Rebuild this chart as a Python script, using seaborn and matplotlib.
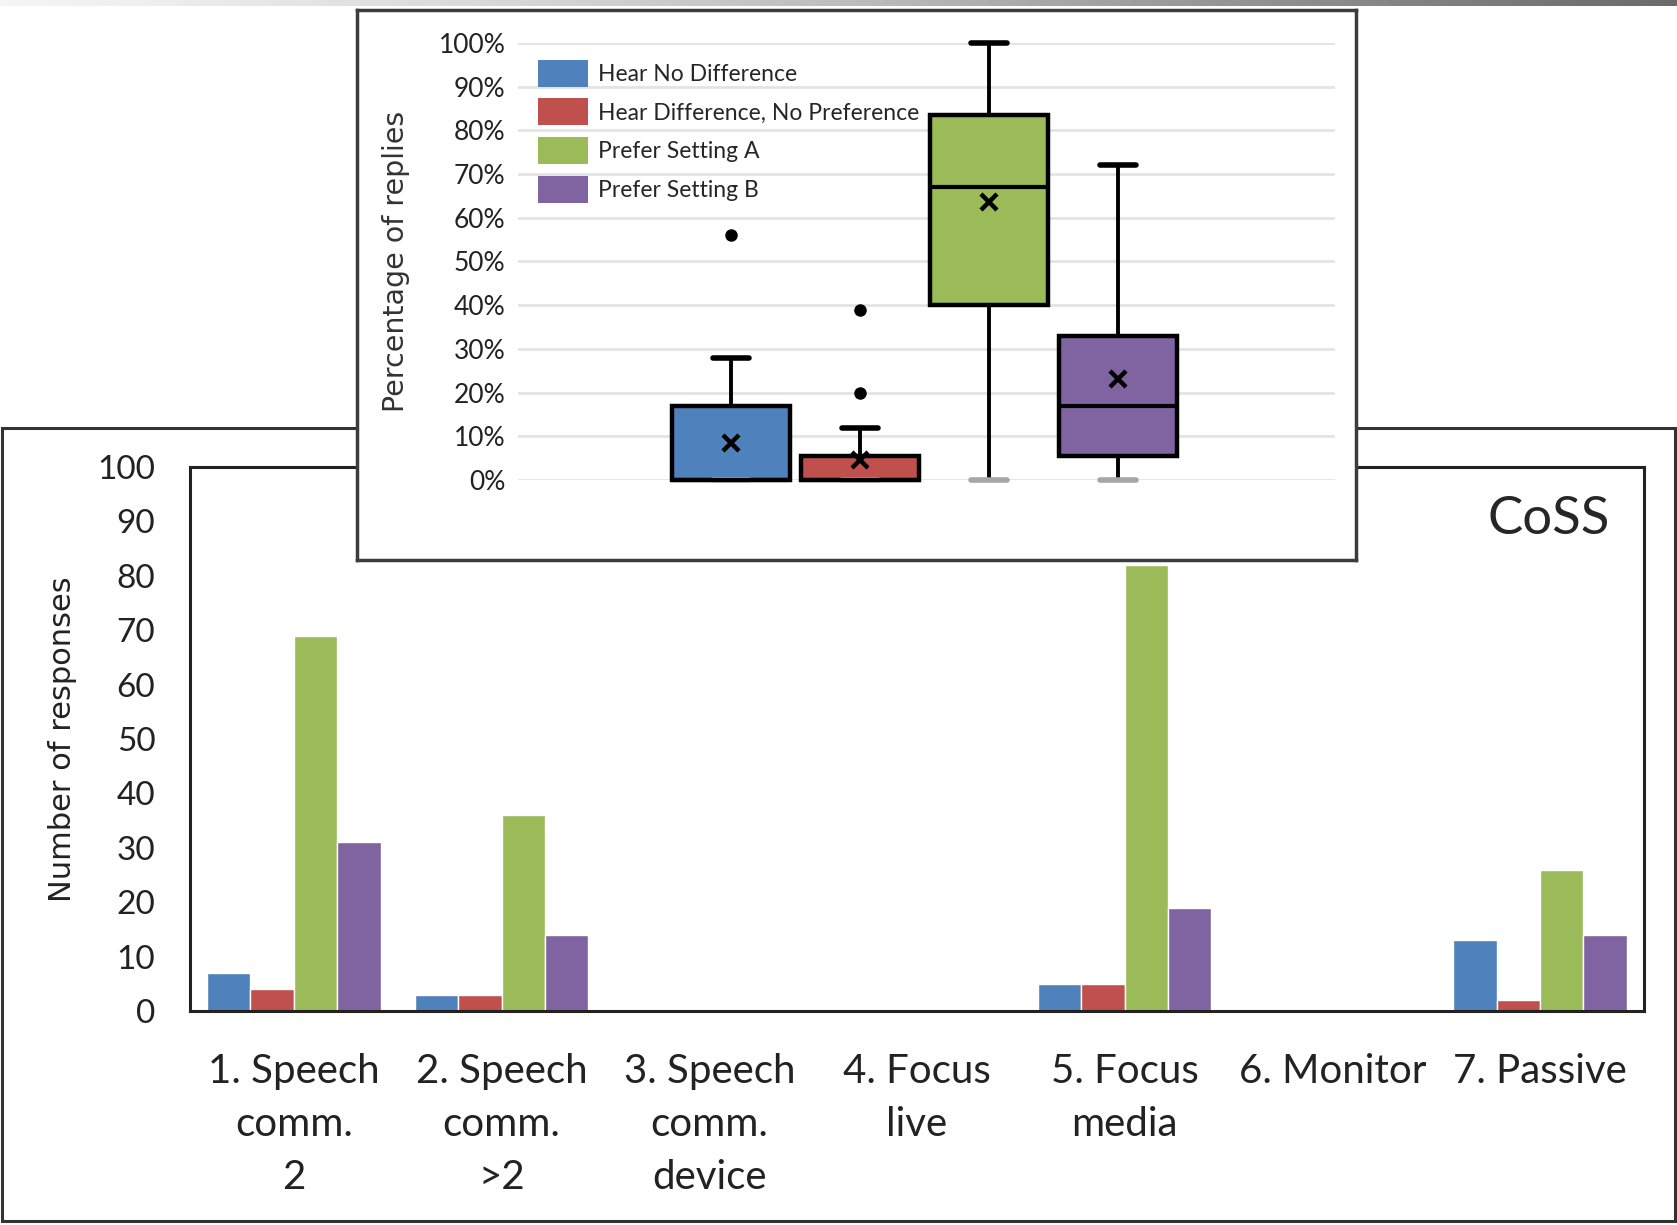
import numpy as np
import pandas as pd
import matplotlib.pyplot as plt
import matplotlib.patches as mpatches
import seaborn as sns

# main bar chart: number of responses per listening activity
activities = ["1. Speech\ncomm.\n2", "2. Speech\ncomm.\n>2", "3. Speech\ncomm.\ndevice",
              "4. Focus\nlive", "5. Focus\nmedia", "6. Monitor", "7. Passive"]
responses = ["Hear No Difference", "Hear Difference, No Preference",
             "Prefer Setting A", "Prefer Setting B"]
no_difference = [7, 3, 0, 0, 5, 0, 13]
no_preference = [4, 3, 0, 0, 5, 0, 2]
prefer_a = [69, 36, 0, 0, 82, 0, 26]
prefer_b = [31, 14, 0, 0, 19, 0, 14]
count_ticks = list(range(0, 101, 10))

# inset box plot: percentage of replies
box_q1 = [0, 0, 40, 5.5]
box_med = [0, 0, 67, 17]
box_q3 = [17, 5.5, 83.5, 33]
box_lo = [0, 0, 0, 0]
box_hi = [28, 12, 100, 72]
box_mean = [8.5, 4.5, 63.5, 23]
box_fliers = [[56], [20, 39], [], []]
pct_ticks = list(range(0, 101, 10))
pct_labels = [f"{t}%" for t in pct_ticks]

colors = ["#4F81BD", "#C0504D", "#9BBB59", "#8064A2"]

sns.set_style("white")
plt.rcParams['font.family'] = ['Lato', 'DejaVu Sans']

df = pd.DataFrame({
    "activity": activities * 4,
    "response": np.repeat(responses, len(activities)),
    "count": no_difference + no_preference + prefer_a + prefer_b,
})

fig = plt.figure(figsize=(16.77, 12.25), dpi=100)

# outer frame around the bar chart
fig.patches.append(mpatches.Rectangle((0.0012, 0.0033), 0.9976, 0.6473, transform=fig.transFigure,
                                      fill=False, edgecolor='#333333', lw=2.2, zorder=-1))

# grey gradient strip along the top
strip = fig.add_axes([0, 1 - 6 / 1225, 1, 6 / 1225])
strip.imshow(np.linspace(0, 1, 256)[None, :], aspect='auto', cmap='Greys', vmin=-0.15, vmax=1.6)
strip.axis('off')

ax = fig.add_axes([0.1133, 0.1747, 0.8670, 0.4441])
sns.barplot(data=df, x="activity", y="count", hue="response", hue_order=responses,
            palette=colors, saturation=1, width=0.835, legend=False, ax=ax)
ax.set_xlim(-0.5, 6.5)
ax.set_ylim(0, 100)
ax.set_yticks(count_ticks)
ax.tick_params(axis='y', direction='in', length=12, width=2, pad=25, labelsize=24, colors='#222222')
ax.tick_params(axis='x', length=0, pad=30, labelsize=29, colors='#222222')
for lbl in ax.get_xticklabels():
    lbl.set_linespacing(1.54)
ax.set_xlabel("")
ax.set_ylabel("Number of responses", fontsize=22, family='DejaVu Sans', color='#222222')
ax.yaxis.set_label_coords(-0.078, 0.5)
for s in ax.spines.values():
    s.set_linewidth(2.2)
    s.set_color('#222222')
ax.text(0.9766, 0.904, "CoSS", transform=ax.transAxes, ha='right', va='center', fontsize=38)

# inset frame
frame = fig.add_axes([0.2129, 0.5429, 0.5957, 0.4490])
frame.set_xticks([])
frame.set_yticks([])
frame.set_facecolor('white')
for s in frame.spines.values():
    s.set_visible(True)
    s.set_linewidth(2.5)
    s.set_color('#3c3c3c')

ins = fig.add_axes([0.3089, 0.6082, 0.4872, 0.3567])
ins.set_facecolor('none')
stats = [dict(label=r, q1=a, med=b, q3=c, whislo=d, whishi=e, mean=m, fliers=f)
         for r, a, b, c, d, e, m, f in zip(responses, box_q1, box_med, box_q3,
                                            box_lo, box_hi, box_mean, box_fliers)]
bp = ins.bxp(stats, positions=range(len(stats)), widths=0.915, capwidths=0.28,
             showmeans=True, patch_artist=True,
             meanprops=dict(marker='x', markeredgecolor='black', markersize=12, markeredgewidth=3.2),
             medianprops=dict(color='black', lw=3),
             boxprops=dict(edgecolor='black', lw=3.2),
             whiskerprops=dict(color='black', lw=2.8),
             capprops=dict(color='black', lw=4),
             flierprops=dict(marker='o', markerfacecolor='black', markeredgecolor='black', markersize=8))
for patch, c in zip(bp['boxes'], colors):
    patch.set_facecolor(c)
for cap in bp['caps']:
    if max(cap.get_ydata()) == 0:
        cap.set_color('#a6a6a6')
for group in bp.values():
    for art in group:
        art.set_clip_on(False)
ins.set_xlim(-1.65, 4.68)
ins.set_ylim(0, 100)
ins.set_yticks(pct_ticks, pct_labels)
ins.set_xticks([])
ins.yaxis.grid(True, color='#e3e3e3', lw=2)
ins.set_axisbelow(True)
for s in ins.spines.values():
    s.set_visible(False)
ins.tick_params(axis='y', length=0, pad=9, labelsize=19, colors='#222222')
ins.set_ylabel("Percentage of replies", fontsize=20.5, family='DejaVu Sans', color='#333333')
ins.yaxis.set_label_coords(-0.132, 0.5)

handles = [mpatches.Patch(facecolor=c, edgecolor='none', label=r) for c, r in zip(colors, responses)]
ins.legend(handles=handles, loc='upper left', bbox_to_anchor=(0.024, 0.962), frameon=False,
           fontsize=16.5, handlelength=2.2, handleheight=1.45, labelspacing=0.5,
           handletextpad=0.45, borderaxespad=0, borderpad=0)

fig.savefig('out.png', dpi=100)
